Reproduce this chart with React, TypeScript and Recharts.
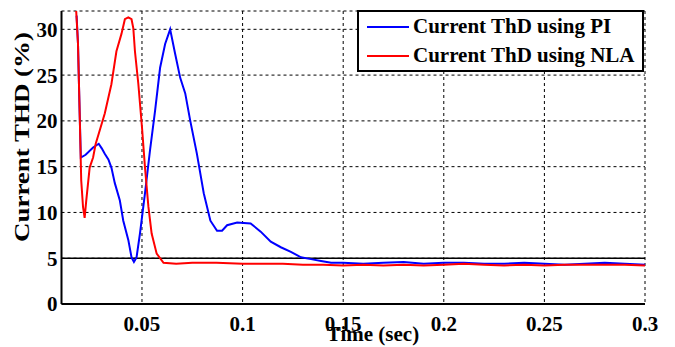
import {
  CartesianGrid,
  Legend,
  Line,
  LineChart,
  ReferenceLine,
  XAxis,
  YAxis,
} from "recharts";

const piTime = [
  0.0175, 0.0182, 0.019, 0.0196, 0.022, 0.0257, 0.0285, 0.03, 0.0315, 0.0333,
  0.0348, 0.0365, 0.039, 0.0407, 0.0432, 0.0448, 0.046, 0.0473, 0.049, 0.0515,
  0.054, 0.0565, 0.059, 0.0615, 0.064, 0.0665, 0.069, 0.0715, 0.074, 0.0773,
  0.0807, 0.084, 0.0873, 0.0898, 0.0923, 0.0973, 0.104, 0.109, 0.114, 0.119,
  0.124, 0.129, 0.134, 0.139, 0.144, 0.15, 0.16, 0.17, 0.18, 0.19, 0.2, 0.21,
  0.22, 0.23, 0.24, 0.25, 0.26, 0.27, 0.28, 0.29, 0.3,
];
const piThd = [
  31.5, 28.4, 21.1, 16.0, 16.3, 17.1, 17.5, 17.0, 16.4, 15.8,
  14.9, 13.2, 11.3, 9.1, 7.0, 5.1, 4.6, 5.1, 7.7, 12.1,
  16.8, 21.1, 25.8, 28.4, 30.0, 27.3, 24.7, 23.0, 20.0, 16.4,
  12.1, 9.1, 8.0, 8.0, 8.6, 8.9, 8.8, 7.9, 6.8, 6.2,
  5.7, 5.1, 4.9, 4.7, 4.5, 4.5, 4.4, 4.5, 4.6, 4.4, 4.5, 4.5,
  4.4, 4.4, 4.5, 4.4, 4.3, 4.4, 4.5, 4.4, 4.3,
];

const nlaTime = [
  0.0168, 0.0173, 0.0182, 0.019, 0.0198, 0.0207, 0.0215, 0.0223, 0.024, 0.0257,
  0.027, 0.0285, 0.0315, 0.0348, 0.0373, 0.0398, 0.0415, 0.0432, 0.0448, 0.0457,
  0.0465, 0.0482, 0.05, 0.0515, 0.0532, 0.0548, 0.0573, 0.0607, 0.067, 0.075,
  0.087, 0.1, 0.112, 0.12, 0.13, 0.14, 0.15, 0.16, 0.17, 0.18, 0.19, 0.2,
  0.21, 0.22, 0.23, 0.24, 0.25, 0.26, 0.27, 0.28, 0.29, 0.3,
];
const nlaThd = [
  33, 32, 28.4, 21.1, 13.5, 10.6, 9.4, 11.3, 14.9, 16.0,
  17.5, 18.6, 20.8, 24.0, 27.6, 29.5, 31.1, 31.3, 31.1, 30.1,
  27.6, 24.0, 19.3, 14.9, 10.6, 7.7, 5.5, 4.5, 4.4, 4.5,
  4.5, 4.4, 4.4, 4.4, 4.3, 4.3, 4.2, 4.3, 4.2, 4.3, 4.2, 4.3,
  4.4, 4.3, 4.2, 4.3, 4.2, 4.3, 4.3, 4.3, 4.3, 4.2,
];

const xTicks = [0.05, 0.1, 0.15, 0.2, 0.25, 0.3];
const yTicks = [0, 5, 10, 15, 20, 25, 30];
const thresholdLine = 5;

const seriesNames = ["Current ThD using PI", "Current ThD using NLA"];
const seriesColors = ["#0000ff", "#ff0000"];

const piRows = piTime.map((t, i) => ({ t, y: piThd[i] }));
const nlaRows = nlaTime.map((t, i) => ({ t, y: nlaThd[i] }));

const font = "'Liberation Serif', 'Times New Roman', serif";
const tickStyle = { fontSize: 21, fontWeight: 700, fill: "#000", fontFamily: font };

function LegendBox() {
  return (
    <div
      style={{
        width: 283,
        height: 58,
        border: "2px solid #000",
        background: "#fff",
        fontFamily: font,
        fontWeight: 700,
        fontSize: 21,
        color: "#000",
        boxSizing: "content-box",
      }}
    >
      {seriesNames.map((name, i) => (
        <div key={name} style={{ display: "flex", alignItems: "center", height: 29, paddingLeft: 8 }}>
          <span style={{ display: "inline-block", width: 42, height: 2, background: seriesColors[i], marginRight: 4 }} />
          <span style={{ whiteSpace: "nowrap" }}>{name}</span>
        </div>
      ))}
    </div>
  );
}

export default function App() {
  return (
    <div style={{ position: "absolute", left: 0, top: 0, background: "#fff" }}>
      <LineChart width={675} height={347} margin={{ top: 11, right: 30, bottom: 13, left: 1.5 }}>
        <CartesianGrid stroke="#000" strokeDasharray="3 3" strokeWidth={1} />
        <XAxis
          type="number"
          dataKey="t"
          domain={[0.01, 0.3]}
          ticks={xTicks}
          allowDataOverflow
          height={30}
          tickLine={false}
          tickMargin={6}
          axisLine={{ stroke: "#000", strokeWidth: 2 }}
          tick={tickStyle}
          label={() => (
            <text x={373} y={341} textAnchor="middle" style={tickStyle}>
              Time (sec)
            </text>
          )}
        />
        <XAxis
          xAxisId="top"
          orientation="top"
          type="number"
          dataKey="t"
          domain={[0.01, 0.3]}
          height={0}
          tick={false}
          tickLine={false}
          axisLine={{ stroke: "#000", strokeWidth: 2 }}
        />
        <YAxis
          type="number"
          domain={[0, 32]}
          ticks={yTicks}
          allowDataOverflow
          width={60}
          tickLine={false}
          tickSize={0}
          tickMargin={4}
          axisLine={{ stroke: "#000", strokeWidth: 2 }}
          tick={tickStyle}
          label={() => (
            <text
              x={24}
              y={137}
              textAnchor="middle"
              dominantBaseline="middle"
              transform="rotate(-90 24 137)"
              textLength={210}
              lengthAdjust="spacingAndGlyphs"
              style={tickStyle}
            >
              Current THD (%)
            </text>
          )}
        />
        <YAxis
          yAxisId="right"
          orientation="right"
          domain={[0, 32]}
          width={0}
          tick={false}
          tickLine={false}
          axisLine={{ stroke: "#000", strokeWidth: 2 }}
        />
        <ReferenceLine y={thresholdLine} stroke="#000" strokeWidth={1.5} />
        <Line
          data={piRows}
          dataKey="y"
          name={seriesNames[0]}
          stroke={seriesColors[0]}
          strokeWidth={2}
          dot={false}
          type="linear"
          isAnimationActive={false}
        />
        <Line
          data={nlaRows}
          dataKey="y"
          name={seriesNames[1]}
          stroke={seriesColors[1]}
          strokeWidth={2}
          dot={false}
          type="linear"
          isAnimationActive={false}
        />
        <Legend
          layout="horizontal"
          verticalAlign="middle"
          align="center"
          content={() => <LegendBox />}
          wrapperStyle={{ position: "absolute", left: 357, top: 10, width: 287, height: 62 }}
        />
      </LineChart>
    </div>
  );
}
